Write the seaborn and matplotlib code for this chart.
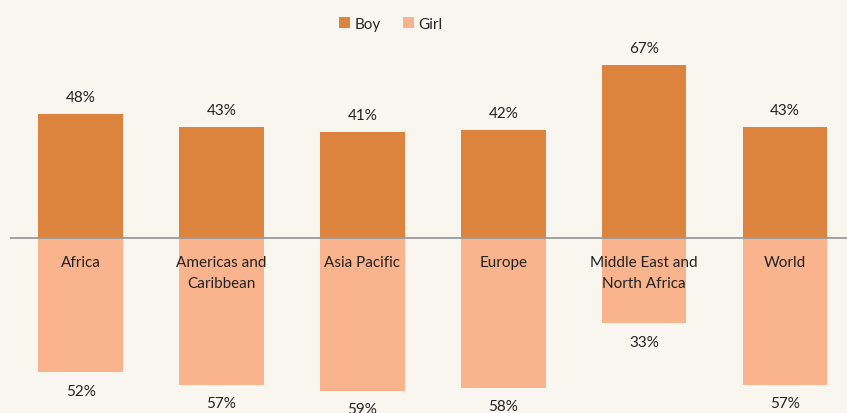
import pandas as pd
import matplotlib.pyplot as plt
import seaborn as sns

# Share of boys / girls by region (%)
regions = ['Africa', 'Americas and\nCaribbean', 'Asia Pacific', 'Europe',
           'Middle East and\nNorth Africa', 'World']
boy = [48, 43, 41, 42, 67, 43]
girl = [52, 57, 59, 58, 33, 57]

bg = '#f9f6ef'
palette = {'Boy': '#dc843e', 'Girl': '#f9b48e'}

df = pd.concat([
    pd.DataFrame({'Region': regions, 'Gender': 'Boy', 'Value': boy}),
    pd.DataFrame({'Region': regions, 'Gender': 'Girl', 'Value': [-v for v in girl]}),
])

sns.set_style('white')
plt.rcParams['font.family'] = ['Lato', 'DejaVu Sans']

fig = plt.figure(figsize=(8.47, 4.14), dpi=100, facecolor=bg)
ax = fig.add_axes([0.012, 0, 0.988, 1])
ax.set_facecolor(bg)

sns.barplot(data=df, x='Region', y='Value', hue='Gender', order=regions,
            palette=palette, dodge=False, width=0.6, saturation=1,
            linewidth=0, ax=ax)

ax.axhline(0, color='#9a9a9a', lw=1.3, zorder=3)
ax.set_xlim(-0.5, 5.44)
ax.set_ylim(-67.7, 92.7)

for i, (b, g) in enumerate(zip(boy, girl)):
    ax.text(i, b + 6.6, f'{b}%', ha='center', va='center', fontsize=11, color='#222222')
    ax.text(i, -g - 7.0, f'{g}%', ha='center', va='center', fontsize=11, color='#222222')
    ax.text(i, -6.4, regions[i], ha='center', va='top', fontsize=11,
            color='#222222', linespacing=1.7)

ax.set_xticks([])
ax.set_yticks([])
ax.set_xlabel('')
ax.set_ylabel('')
sns.despine(ax=ax, left=True, bottom=True)

handles, labels = ax.get_legend_handles_labels()
ax.legend(handles, labels, loc='upper center', bbox_to_anchor=(0.455, 0.99),
          ncol=2, frameon=False, fontsize=11, handlelength=0.75, handleheight=0.75,
          handletextpad=0.3, columnspacing=1.4)

plt.savefig('out.png', dpi=100, facecolor=bg)
